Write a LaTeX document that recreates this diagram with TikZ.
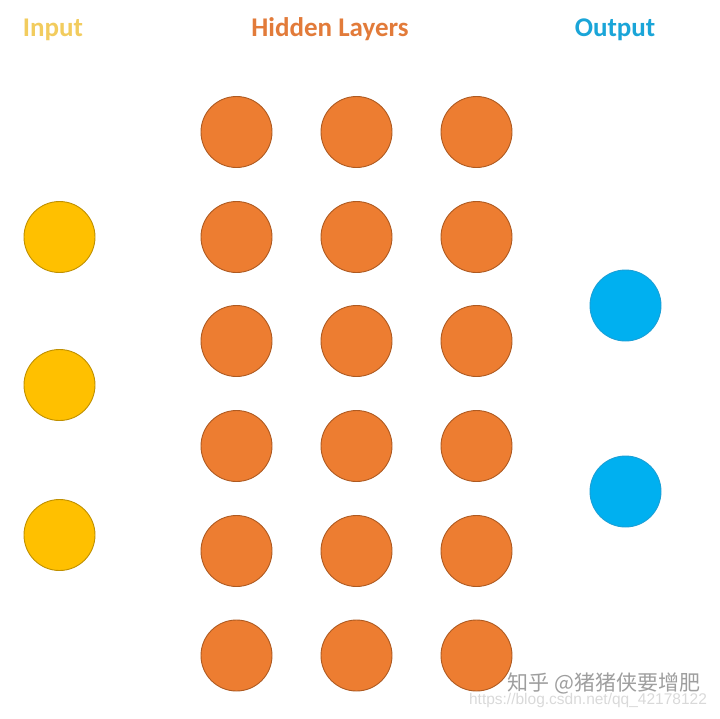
\documentclass[tikz,border=0pt]{standalone}
\usepackage{fontspec}
\setmainfont{Carlito}
\newfontfamily\cjkfont{Noto Sans CJK SC}
\newfontfamily\urlfont{Liberation Sans}
\usepackage{tikz}

\definecolor{inyellow}{HTML}{FFC000}
\definecolor{inedge}{HTML}{BF9000}
\definecolor{hidorange}{HTML}{ED7D31}
\definecolor{hidedge}{HTML}{AE5A21}
\definecolor{outblue}{HTML}{00B0F0}
\definecolor{outedge}{HTML}{1A9FD6}
\definecolor{intitle}{HTML}{F2CC5E}
\definecolor{hidtitle}{HTML}{E27B3A}
\definecolor{outtitle}{HTML}{1AA5D8}

\begin{document}
\begin{tikzpicture}[x=1pt,y=-1pt,%
        n/.style={circle, draw, line width=0.9pt,%
                        inner sep=0pt, minimum size=71pt},
        inp/.style={n, fill=inyellow, draw=inedge},
        hid/.style={n, fill=hidorange, draw=hidedge},
        outp/.style={n, fill=outblue, draw=outedge},
        ttl/.style={font=\fontsize{27}{30}\selectfont\bfseries}]
\useasboundingbox (0,0) rectangle (720,718);
% titles
\node[ttl, text=intitle] (tin) at (53,29.5) {Input};
\node[ttl, text=hidtitle] (thid) at (330,29.5) {Hidden Layers};
\node[ttl, text=outtitle] (tout) at (615,29.5) {Output};
% input layer
\foreach \y [count=\i] in {237,385,535} {
    \node[inp] (i\i) at (59.5,\y) {};
}
% hidden layers
\foreach \x [count=\c] in {236.5,356.5,476.5} {
    \foreach \y [count=\r] in {132,237,341,446,551,655.5} {
        \node[hid] (h\c-\r) at (\x,\y) {};
    }
}
% output layer
\node[outp] (o1) at (625.5,305.5) {};
\node[outp] (o2) at (625.5,491.5) {};
% watermark
\node[text=black!15, font=\urlfont\fontsize{15.5}{17}\selectfont] (url) at (588,700)
    {https://blog.csdn.net/qq\_42178122};
\node[text=black!38, font=\cjkfont\fontsize{21}{23}\selectfont] (wm) at (604,683)
    {知乎 @猪猪侠要增肥};
\end{tikzpicture}
\end{document}
